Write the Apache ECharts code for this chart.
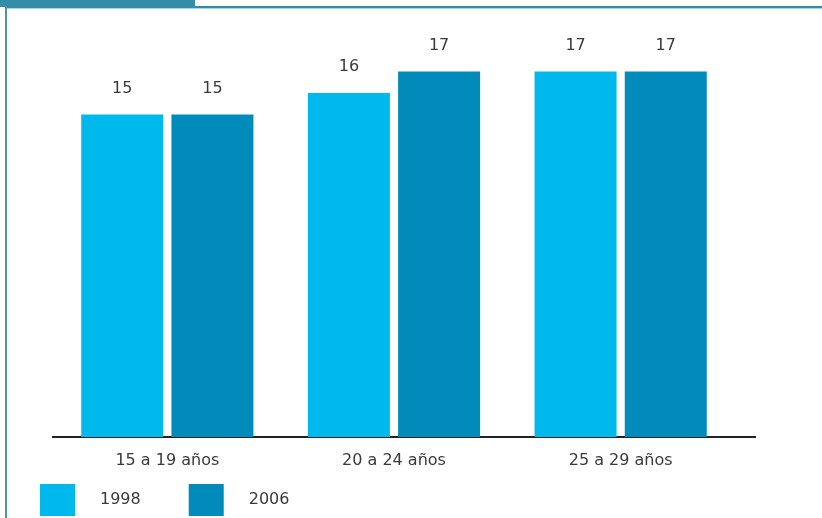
<!DOCTYPE html>
<html>
<head>
<meta charset="utf-8">
<script src="https://cdn.jsdelivr.net/npm/echarts@6/dist/echarts.min.js"></script>
<style>html,body{margin:0;padding:0;background:#fff}#c{width:822px;height:518px}</style>
</head>
<body>
<div id="c"></div>
<script>
const categories = ['15 a 19 años', '20 a 24 años', '25 a 29 años'];
const seriesNames = ['1998', '2006'];
const values1998 = [15, 16, 17];
const values2006 = [15, 17, 17];

const chart = echarts.init(document.getElementById('c'));
const FONT = 'DejaVu Sans';
chart.setOption({
  animation: false,
  textStyle: { fontFamily: FONT },
  grid: { left: 54, right: 88, top: 7, bottom: 81, containLabel: false },
  xAxis: {
    type: 'category',
    data: categories,
    axisLine: { show: false },
    axisTick: { show: false },
    axisLabel: { color: '#3a3a3a', fontSize: 16, fontFamily: FONT, margin: 16 }
  },
  yAxis: {
    type: 'value', min: 0, max: 20,
    show: false
  },
  legend: {
    left: 35, bottom: -3,
    itemWidth: 35, itemHeight: 32, itemGap: 48,
    icon: 'rect',
    textStyle: { color: '#3a3a3a', fontSize: 16, fontFamily: FONT, padding: [0, 0, 0, 20] },
    data: seriesNames
  },
  series: [
    {
      name: seriesNames[0], type: 'bar', data: values1998,
      barWidth: 82, barGap: '10%',
      itemStyle: { color: '#00B9EC' },
      label: { show: true, position: 'top', distance: 18, color: '#3a3a3a', fontSize: 16, fontFamily: FONT }
    },
    {
      name: seriesNames[1], type: 'bar', data: values2006,
      barWidth: 82, barGap: '10%',
      itemStyle: { color: '#008BBA' },
      label: { show: true, position: 'top', distance: 18, color: '#3a3a3a', fontSize: 16, fontFamily: FONT }
    }
  ],
  graphic: [
    { type: 'rect', shape: { x: 0, y: 0, width: 195, height: 7 }, style: { fill: '#338CA8' }, silent: true },
    { type: 'rect', shape: { x: 5, y: 6, width: 817, height: 2 }, style: { fill: '#338CA8' }, silent: true },
    { type: 'rect', shape: { x: 7, y: 8, width: 815, height: 1 }, style: { fill: '#A8D8EA' }, silent: true },
    { type: 'rect', shape: { x: 5, y: 6, width: 2, height: 512 }, style: { fill: '#4A94AE' }, silent: true },
    { type: 'line', shape: { x1: 52, y1: 437, x2: 756, y2: 437 }, style: { stroke: '#222', lineWidth: 2 }, silent: true }
  ]
});
</script>
</body>
</html>
